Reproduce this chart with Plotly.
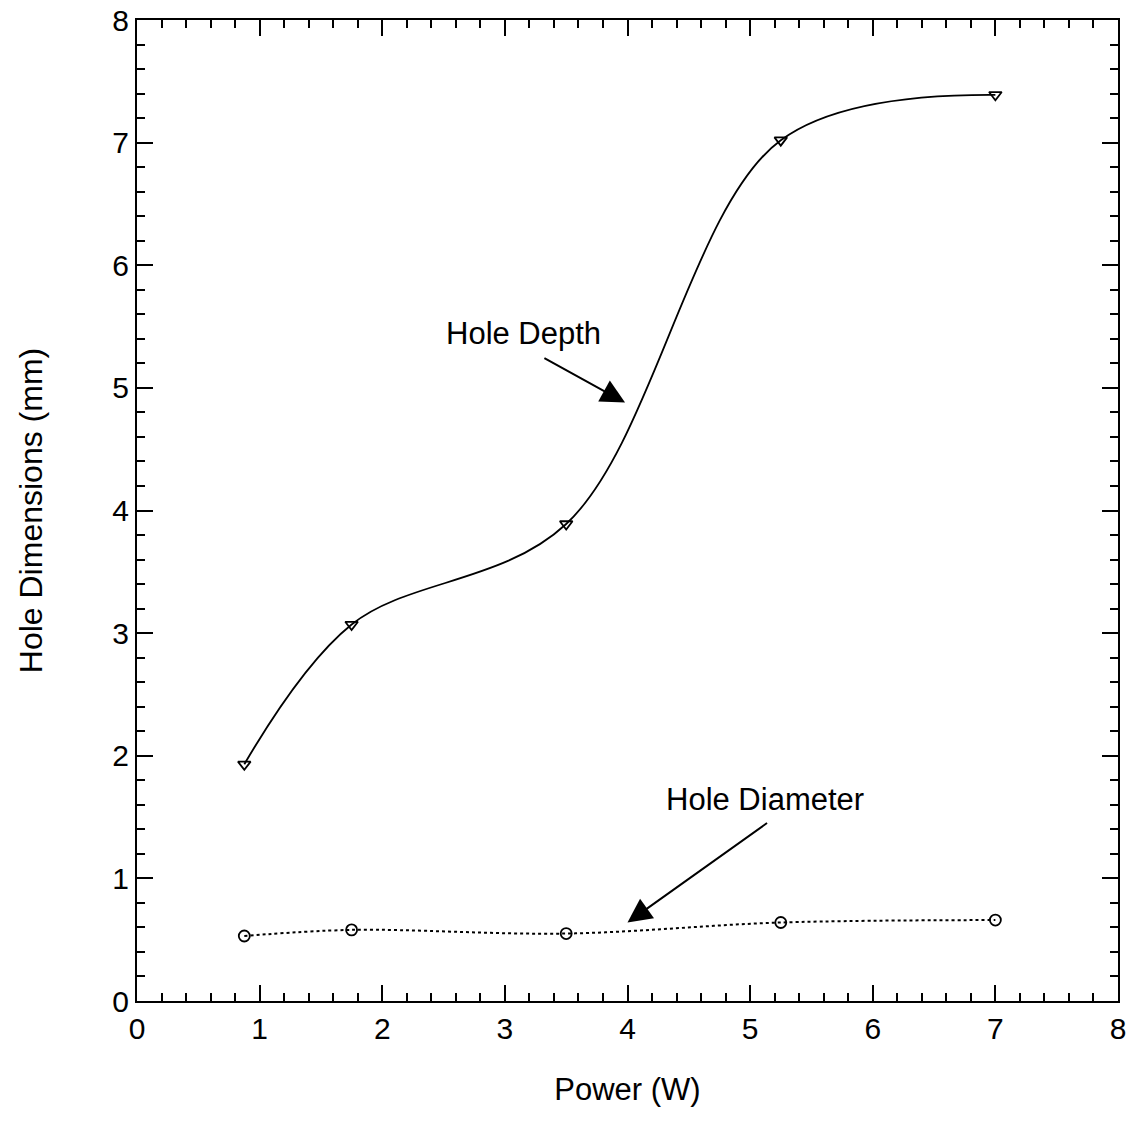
import plotly.graph_objects as go

power = [0.875, 1.75, 3.5, 5.25, 7.0]
hole_depth = [1.93, 3.07, 3.89, 7.02, 7.39]
hole_diameter = [0.53, 0.58, 0.55, 0.64, 0.66]
x_ticks = [0, 1, 2, 3, 4, 5, 6, 7, 8]
y_ticks = [0, 1, 2, 3, 4, 5, 6, 7, 8]

FONT = "Liberation Sans"

fig = go.Figure()
fig.add_trace(go.Scatter(
    x=power, y=hole_depth, mode="lines+markers", line_shape="spline",
    line=dict(color="black", width=1.8, smoothing=1.0),
    marker=dict(symbol="triangle-down-open", size=11, color="black", line=dict(width=1.8)),
    showlegend=False))
fig.add_trace(go.Scatter(
    x=power, y=hole_diameter, mode="lines+markers", line_shape="spline",
    line=dict(color="black", width=2, dash="dot"),
    marker=dict(symbol="circle-open", size=11, color="black", line=dict(width=1.8)),
    showlegend=False))

fig.add_annotation(x=3.98, y=4.88, ax=3.31, ay=5.25, axref="x", ayref="y",
                   xref="x", yref="y", text="", showarrow=True,
                   arrowhead=2, arrowsize=2.4, arrowwidth=2, arrowcolor="black")
fig.add_annotation(x=3.15, y=5.44, xref="x", yref="y", text="Hole Depth",
                   showarrow=False, font=dict(size=31, color="black", family=FONT))
fig.add_annotation(x=4.0, y=0.64, ax=5.15, ay=1.46, axref="x", ayref="y",
                   xref="x", yref="y", text="", showarrow=True,
                   arrowhead=2, arrowsize=2.4, arrowwidth=2, arrowcolor="black")
fig.add_annotation(x=5.12, y=1.64, xref="x", yref="y", text="Hole Diameter",
                   showarrow=False, font=dict(size=31, color="black", family=FONT))

axis_common = dict(
    showline=True, linecolor="black", linewidth=2, mirror="ticks",
    ticks="inside", ticklen=16, tickwidth=2, tickcolor="black",
    showgrid=False, zeroline=False, automargin=False,
    tickfont=dict(size=30, color="black", family=FONT),
    minor=dict(ticks="inside", ticklen=8, tickwidth=2, tickcolor="black", dtick=0.2, showgrid=False),
)
fig.update_xaxes(range=[0, 8], tickvals=x_ticks, ticktext=[str(v) for v in x_ticks],
                 title=dict(text="Power (W)", font=dict(size=31, color="black", family=FONT), standoff=34),
                 **axis_common)
fig.update_yaxes(range=[0, 8], tickvals=y_ticks, ticktext=[str(v) for v in y_ticks],
                 title=dict(text="Hole Dimensions (mm)", font=dict(size=32, color="black", family=FONT), standoff=60),
                 **axis_common)

fig.update_layout(width=1140, height=1143, margin=dict(l=137, r=22, t=20, b=142),
                  plot_bgcolor="white", paper_bgcolor="white",
                  font=dict(family=FONT, color="black"))
fig.write_html("out.html")
